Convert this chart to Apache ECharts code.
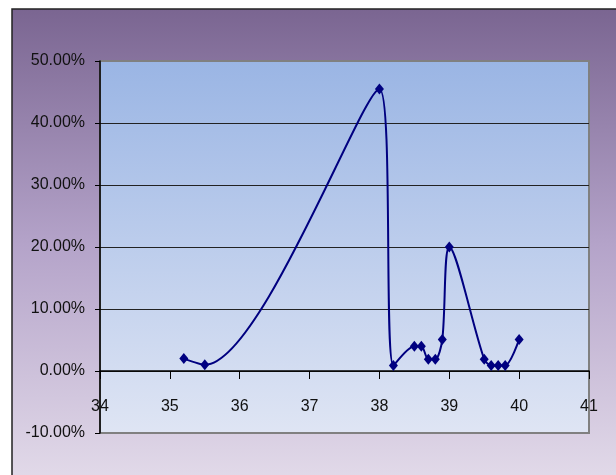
<!DOCTYPE html>
<html>
<head>
<meta charset="utf-8">
<script src="https://cdn.jsdelivr.net/npm/echarts@6/dist/echarts.min.js"></script>
<style>
html,body{margin:0;padding:0;background:#fff;}
#chart{width:616px;height:475px;}
</style>
</head>
<body>
<div id="chart"></div>
<script>
// Data
var xValues = [35.2, 35.5, 38.0, 38.2, 38.5, 38.6, 38.7, 38.8, 38.9, 39.0, 39.5, 39.6, 39.7, 39.8, 40.0];
var yValues = [0.02, 0.01, 0.455, 0.009, 0.04, 0.04, 0.019, 0.019, 0.051, 0.20, 0.019, 0.009, 0.009, 0.009, 0.051];
var xTicks = [34, 35, 36, 37, 38, 39, 40, 41];
var yTicks = [-0.1, 0, 0.1, 0.2, 0.3, 0.4, 0.5];

var points = xValues.map(function (x, i) { return [x, yValues[i]]; });

var chart = echarts.init(document.getElementById('chart'), null, {renderer: 'canvas'});
var font = '"Liberation Sans", Arial, sans-serif';

chart.setOption({
  backgroundColor: '#ffffff',
  animation: false,
  graphic: [{
    type: 'rect',
    z: -100,
    silent: true,
    shape: {x: 12, y: 9, width: 610, height: 470},
    style: {
      fill: new echarts.graphic.LinearGradient(0, 0, 0, 1, [
        {offset: 0, color: '#7a6591'},
        {offset: 0.5, color: '#b4a3c9'},
        {offset: 1, color: '#e2dae9'}
      ]),
      stroke: '#222',
      lineWidth: 1.5
    }
  }],
  grid: {
    left: 100, top: 61, right: 27, bottom: 42,
    show: true,
    borderColor: '#808080',
    borderWidth: 2,
    backgroundColor: new echarts.graphic.LinearGradient(0, 0, 0, 1, [
      {offset: 0, color: '#9ab5e4'},
      {offset: 1, color: '#dfe5f4'}
    ])
  },
  xAxis: {
    type: 'value',
    min: xTicks[0], max: xTicks[xTicks.length - 1], interval: 1,
    axisLine: {show: true, onZero: true, lineStyle: {color: '#000', width: 1.5}},
    axisTick: {show: true, length: 8, lineStyle: {color: '#000', width: 1}},
    axisLabel: {show: true, margin: -34, fontFamily: font, fontSize: 16, color: '#111',
      formatter: function (v) { return String(v); }},
    splitLine: {show: false}
  },
  yAxis: {
    type: 'value',
    min: yTicks[0], max: yTicks[yTicks.length - 1], interval: 0.1,
    axisLine: {show: true, lineStyle: {color: '#000', width: 1.5}},
    axisTick: {show: true, length: 5, lineStyle: {color: '#000', width: 1}},
    axisLabel: {show: true, margin: 15, fontFamily: font, fontSize: 16, color: '#111',
      formatter: function (v) { return (v * 100).toFixed(2) + '%'; }},
    splitLine: {show: true, lineStyle: {color: ['rgba(0,0,0,0)', '#222', '#222', '#222', '#222', '#222', 'rgba(0,0,0,0)'], width: 1.2}}
  },
  series: [{
    type: 'line',
    data: points,
    smooth: 0.3,
    symbol: 'diamond',
    symbolSize: [9, 11],
    showAllSymbol: true,
    lineStyle: {color: '#000080', width: 2},
    itemStyle: {color: '#000080'},
    z: 5
  }]
});
</script>
</body>
</html>
